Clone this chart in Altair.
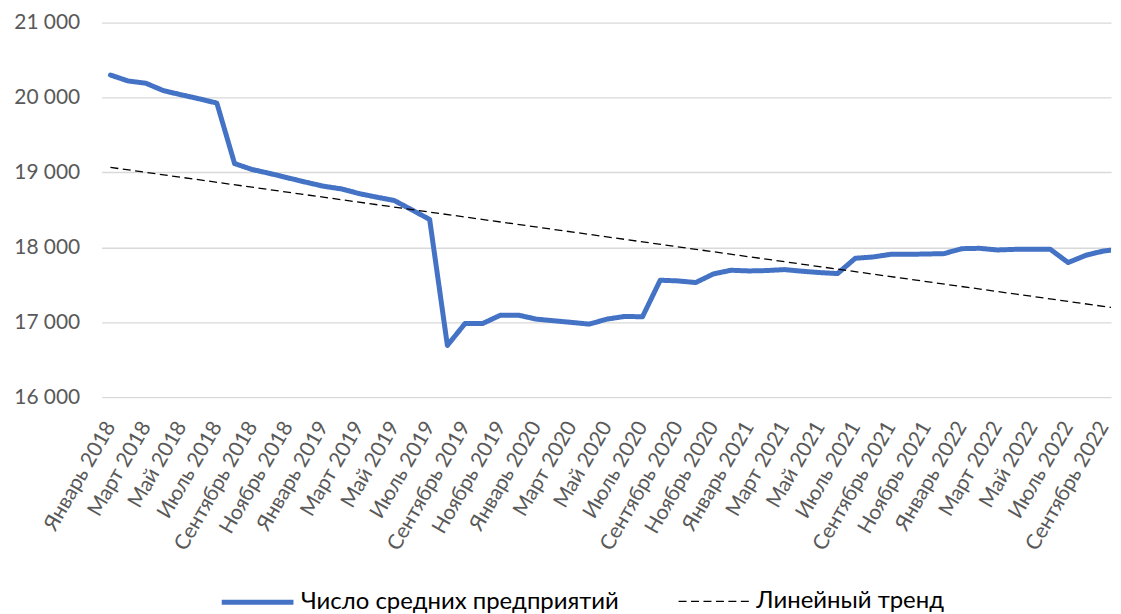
import altair as alt
import pandas as pd

month_names = ["Январь", "Февраль", "Март", "Апрель", "Май", "Июнь",
               "Июль", "Август", "Сентябрь", "Октябрь", "Ноябрь", "Декабрь"]
years = [2018, 2019, 2020, 2021, 2022]
months = [f"{m} {y}" for y in years for m in month_names][:58]

values = [
    20300, 20220, 20190, 20090, 20035, 19982, 19925, 19118, 19038, 18985,
    18927, 18870, 18816, 18780, 18718, 18670, 18625, 18500, 18372, 16690,
    16985, 16985, 17095, 17095, 17042, 17020, 16998, 16975, 17042, 17078,
    17073, 17561, 17552, 17530, 17645, 17694, 17685, 17690, 17703, 17681,
    17663, 17650, 17854, 17871, 17907, 17907, 17911, 17916, 17982, 17987,
    17965, 17973, 17973, 17973, 17797, 17894, 17951, 17978,
]

y_ticks = [16000, 17000, 18000, 19000, 20000, 21000]
series_names = ["Число средних предприятий", "Линейный тренд"]

df = pd.DataFrame({"i": list(range(len(values))), "month": months, "value": values})

FONT = "Lato"
label_js = "[" + ",".join("'" + m + "'" for m in months) + "]"

x_enc = alt.X(
    "i:Q",
    scale=alt.Scale(domain=[-0.495, 56.42], nice=False, zero=False),
    axis=alt.Axis(
        values=list(range(0, 58, 2)),
        labelExpr=label_js + "[datum.value]",
        labelAngle=-60, labelAlign="right", labelBaseline="middle",
        labelFlush=False, labelOverlap=False, labelPadding=26,
        grid=False, ticks=False, domain=False, title=None,
        labelColor="#595959", labelFont=FONT, labelFontSize=21,
    ),
)
y_enc = alt.Y(
    "value:Q",
    scale=alt.Scale(domain=[16000, 21000], nice=False, zero=False),
    axis=alt.Axis(
        values=y_ticks,
        labelExpr="replace(format(datum.value, ',d'), ',', ' ')",
        grid=True, gridColor="#d9d9d9", gridWidth=1.3,
        domain=False, ticks=False, title=None, labelPadding=22,
        labelColor="#595959", labelFont=FONT, labelFontSize=21,
    ),
)

legend = alt.Legend(
    title=None, orient="none", legendX=118, legendY=543, direction="horizontal",
    symbolType="stroke", symbolSize=5184, labelOffset=5, columnPadding=56,
    labelFont=FONT, labelFontSize=24, labelColor="#000000", labelLimit=0,
)
color_enc = alt.Color("series:N", scale=alt.Scale(domain=series_names, range=["#4472C4", "#000000"]), legend=legend)
dash_enc = alt.StrokeDash("series:N", scale=alt.Scale(domain=series_names, range=[[1, 0], [8, 4.5]]), legend=legend)
width_enc = alt.StrokeWidth("series:N", scale=alt.Scale(type="point", domain=series_names, range=[5, 1.3]), legend=legend)

base = alt.Chart(df)
main = base.transform_calculate(series="'" + series_names[0] + "'").mark_line(
    clip=True, strokeCap="round", strokeJoin="round"
).encode(x=x_enc, y=y_enc, color=color_enc, strokeDash=dash_enc, strokeWidth=width_enc)

trend = base.transform_regression("i", "value", method="linear").transform_calculate(
    series="'" + series_names[1] + "'"
).mark_line(clip=True).encode(x=x_enc, y=y_enc, color=color_enc, strokeDash=dash_enc, strokeWidth=width_enc)

chart = alt.layer(main, trend).properties(
    width=1013, height=376,
    padding={"left": 5, "top": 2.5, "right": 0, "bottom": 0},
).configure(background="#ffffff").configure_view(stroke=None, strokeWidth=0)

chart.save("out.html", embed_options={"renderer": "svg", "actions": False})
